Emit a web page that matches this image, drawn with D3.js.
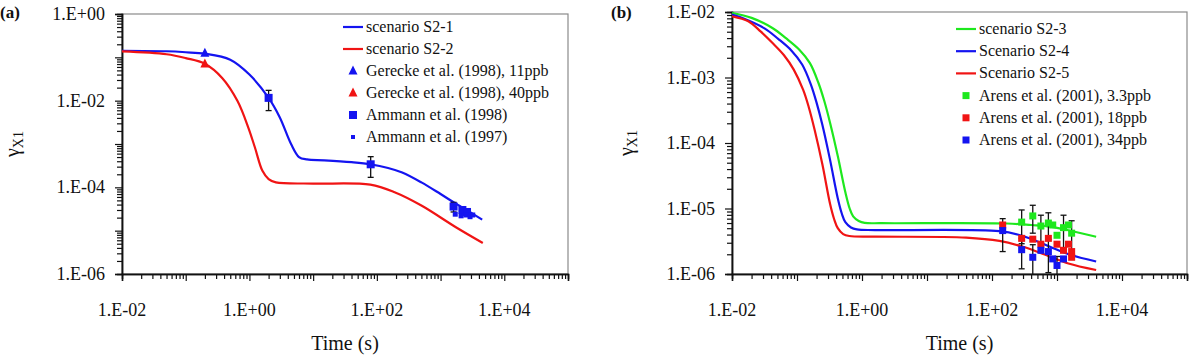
<!DOCTYPE html>
<html>
<head>
<meta charset="utf-8">
<script src="https://cdn.jsdelivr.net/npm/d3@7"></script>
<style>
  body { margin: 0; background: #fff; }
</style>
</head>
<body>
<svg id="chart" width="1193" height="360"></svg>
<script>
// ---- panel (a) data: [time (s), gamma] ----
var s21 = [[0.01,0.142],[0.05,0.138],[0.1,0.131],[0.2,0.121],[0.5,0.088],[1,0.04],[2,0.0116],[3,0.0041],[4.5,1.0e-3],[6,5.0e-4],[8,4.4e-4],[15,4.2e-4],[40,3.8e-4],[80,3.4e-4],[150,2.8e-4],[250,2.2e-4],[500,1.3e-4],[1000,7.0e-5],[1740,4.2e-5],[3000,2.6e-5],[4500,1.8e-5]];
var s22 = [[0.01,0.137],[0.05,0.118],[0.1,0.096],[0.2,0.071],[0.376,0.033],[0.65,9.8e-3],[0.96,2.4e-3],[1.22,8.3e-4],[1.6,2.4e-4],[2,1.55e-4],[2.6,1.3e-4],[10,1.22e-4],[79,1.15e-4],[190,7.7e-5],[500,3.8e-5],[1740,1.2e-5],[4600,5.2e-6]];
var gerecke11 = [[0.2,0.125]];
var gerecke40 = [[0.2,0.071]];
// [time, gamma, error(+/-)]
var ammann98 = [[2,0.0116,0.0057],[80,3.4e-4,1.7e-4],[1600,3.6e-5,0.9e-5],[2200,3.0e-5,0],[2600,2.7e-5,0]];
var ammann97 = [[1700,2.4e-5],[2100,2.2e-5],[2500,2.3e-5],[2900,2.1e-5],[3200,2.3e-5]];

// ---- panel (b) data ----
var s23 = [[0.01,9.66e-3],[0.02,8.13e-3],[0.0418,5.70e-3],[0.0676,3.98e-3],[0.1086,2.66e-3],[0.158,1.66e-3],[0.214,8.24e-4],[0.263,4.37e-4],[0.323,2.02e-4],[0.424,6.31e-5],[0.557,1.74e-5],[0.646,1.0e-5],[0.731,7.59e-6],[0.891,6.46e-6],[1.1,6.03e-6],[2.0,5.96e-6],[170,5.9e-6],[400,5.6e-6],[780,5.3e-6],[1730,4.5e-6],[4000,3.7e-6]];
var s24 = [[0.01,9.12e-3],[0.0151,7.94e-3],[0.0316,5.62e-3],[0.0513,3.89e-3],[0.0824,2.57e-3],[0.12,1.58e-3],[0.1626,7.94e-4],[0.1995,4.17e-4],[0.245,1.91e-4],[0.3214,5.62e-5],[0.4227,1.45e-5],[0.49,8.32e-6],[0.5546,6.17e-6],[0.676,5.13e-6],[0.834,4.79e-6],[1.585,4.68e-6],[130,4.5e-6],[300,3.8e-6],[780,2.6e-6],[1500,2.0e-6],[4000,1.55e-6]];
var s25 = [[0.01,8.61e-3],[0.0178,7.24e-3],[0.0278,5.01e-3],[0.0417,3.39e-3],[0.0631,2.19e-3],[0.0891,1.32e-3],[0.1245,6.46e-4],[0.1514,3.55e-4],[0.187,1.58e-4],[0.246,4.68e-5],[0.323,1.17e-5],[0.372,6.92e-6],[0.424,5.01e-6],[0.513,4.07e-6],[0.638,3.80e-6],[1.585,3.72e-6],[40,3.6e-6],[130,3.2e-6],[300,2.6e-6],[780,1.84e-6],[1500,1.45e-6],[4000,1.15e-6]];
var arens33 = [[286,6.2e-6,3.3e-6],[424,7.7e-6,3.5e-6],[565,5.4e-6,2.5e-6],[737,6.0e-6,2.6e-6],[860,5.6e-6,0],[1000,3.9e-6,0],[1260,5.1e-6,2.8e-6],[1500,5.6e-6,0],[1680,4.2e-6,2.3e-6]];
var arens18 = [[146,5.6e-6,0],[286,3.5e-6,0],[424,3.4e-6,0],[565,2.85e-6,0],[737,3.5e-6,0],[1000,2.85e-6,0],[1260,2.3e-6,0],[1500,2.85e-6,0],[1680,2.2e-6,0],[1680,1.8e-6,0]];
var arens34 = [[146,4.6e-6,2.4e-6],[286,2.35e-6,1.15e-6],[424,1.8e-6,1.0e-6],[565,2.3e-6,0],[737,2.2e-6,1.15e-6],[860,1.7e-6,0],[1000,1.35e-6,0.5e-6],[1260,1.7e-6,0]];

var xLabelsA = [1e-2,1e0,1e2,1e4];
var yLabelsA = [1e0,1e-2,1e-4,1e-6];
var xLabelsB = [1e-2,1e0,1e2,1e4];
var yLabelsB = [1e-2,1e-3,1e-4,1e-5,1e-6];

var BLUE = "#1414f0", RED = "#f01414", GREEN = "#1ee81e";
var FONT = "Liberation Serif";

var svg = d3.select("#chart");

function fmt(v) {
  var e = Math.round(Math.log10(v));
  var s = e < 0 ? "-" : "+";
  var a = Math.abs(e);
  return "1.E" + s + (a < 10 ? "0" + a : a);
}

function logTicks(lo, hi) {
  var out = [];
  for (var e = Math.round(Math.log10(lo)); e < Math.round(Math.log10(hi)); e++) {
    for (var k = 2; k <= 9; k++) out.push(k * Math.pow(10, e));
  }
  return out;
}
function decades(lo, hi) {
  var out = [];
  for (var e = Math.round(Math.log10(lo)); e <= Math.round(Math.log10(hi)); e++) out.push(Math.pow(10, e));
  return out;
}

function txt(sel) {
  return sel.append("text").style("font-family", FONT).attr("fill", "#111");
}

function drawPanel(cfg) {
  var g = svg.append("g");
  var x = d3.scaleLog().domain(cfg.xDomain).range([cfg.left, cfg.right]);
  var y = d3.scaleLog().domain(cfg.yDomain).range([cfg.bottom, cfg.top]);

  // frame
  g.append("rect")
    .attr("x", cfg.left).attr("y", cfg.top)
    .attr("width", cfg.right - cfg.left).attr("height", cfg.bottom - cfg.top)
    .attr("fill", "none").attr("stroke", "#8a8a8a").attr("stroke-width", 1.2);

  // minor ticks
  g.append("g").attr("transform", `translate(0,${cfg.bottom})`)
    .call(d3.axisBottom(x).tickValues(logTicks(cfg.xDomain[0], cfg.xDomain[1])).tickSize(5).tickFormat(""));
  g.append("g").attr("transform", `translate(${cfg.left},0)`)
    .call(d3.axisLeft(y).tickValues(logTicks(cfg.yDomain[0], cfg.yDomain[1])).tickSize(5).tickFormat(""));
  // decade ticks
  g.append("g").attr("transform", `translate(0,${cfg.bottom})`)
    .call(d3.axisBottom(x).tickValues(decades(cfg.xDomain[0], cfg.xDomain[1])).tickSize(7).tickFormat(""));
  g.append("g").attr("transform", `translate(${cfg.left},0)`)
    .call(d3.axisLeft(y).tickValues(decades(cfg.yDomain[0], cfg.yDomain[1])).tickSize(7).tickFormat(""));
  g.selectAll(".domain").attr("stroke", "#111").attr("stroke-width", 1.5);
  g.selectAll(".tick line").attr("stroke", "#111").attr("stroke-width", 1.2);

  // tick labels
  cfg.xLabels.forEach(function(d) {
    txt(g).attr("x", x(d)).attr("y", cfg.bottom + 42)
      .attr("text-anchor", "middle").attr("font-size", 18).text(fmt(d));
  });
  cfg.yLabels.forEach(function(d) {
    txt(g).attr("x", cfg.left - 17).attr("y", y(d) + 6)
      .attr("text-anchor", "end").attr("font-size", 18).text(fmt(d));
  });

  // axis titles
  txt(g).attr("x", (cfg.left + cfg.right) / 2).attr("y", cfg.bottom + 76)
    .attr("text-anchor", "middle").attr("font-size", 20).text("Time (s)");
  var yt = txt(g)
    .attr("transform", `translate(${cfg.yTitleX},${(cfg.top + cfg.bottom) / 2}) rotate(-90)`)
    .attr("text-anchor", "middle").attr("font-size", 20);
  yt.append("tspan").text("γ");
  yt.append("tspan").attr("font-size", 14).attr("dy", 4).text("X1");

  // panel label
  txt(g).attr("x", cfg.tagX).attr("y", 18)
    .attr("font-size", 17).attr("font-weight", "bold").text(cfg.tag);

  var line = d3.line().x(d => x(d[0])).y(d => y(d[1])).curve(d3.curveCatmullRom.alpha(0.5));
  var clip = "clip" + cfg.tag.replace(/\W/g, "");
  g.append("clipPath").attr("id", clip).append("rect")
    .attr("x", cfg.left).attr("y", cfg.top)
    .attr("width", cfg.right - cfg.left).attr("height", cfg.bottom - cfg.top);
  var plot = g.append("g").attr("clip-path", `url(#${clip})`);

  cfg.lines.forEach(function(s) {
    plot.append("path").datum(s.data).attr("d", line)
      .attr("fill", "none").attr("stroke", s.color).attr("stroke-width", 2.2);
  });

  cfg.points.forEach(function(p) {
    p.data.forEach(function(d) {
      var cx = x(d[0]);
      if (d[2]) {
        var y1 = y(d[1] + d[2]), y2 = y(Math.max(d[1] - d[2], 1e-9));
        plot.append("line").attr("x1", cx).attr("x2", cx).attr("y1", y1).attr("y2", y2)
          .attr("stroke", "#111").attr("stroke-width", 1.3);
        [y1, y2].forEach(function(yy) {
          plot.append("line").attr("x1", cx - 3).attr("x2", cx + 3).attr("y1", yy).attr("y2", yy)
            .attr("stroke", "#111").attr("stroke-width", 1.3);
        });
      }
    });
  });
  cfg.points.forEach(function(p) {
    p.data.forEach(function(d) {
      drawMarker(plot, p.shape, p.size, p.color, x(d[0]), y(d[1]));
    });
  });

  // legend
  var lg = g.append("g");
  cfg.legend.forEach(function(item, i) {
    var ly = cfg.legendY + i * cfg.legendStep;
    if (item.type === "line") {
      lg.append("line").attr("x1", cfg.legendX).attr("x2", cfg.legendX + 20)
        .attr("y1", ly).attr("y2", ly).attr("stroke", item.color).attr("stroke-width", 2.2);
    } else {
      drawMarker(lg, item.shape, item.size, item.color, cfg.legendX + 10, ly);
    }
    txt(lg).attr("x", cfg.legendX + 23).attr("y", ly + 5)
      .attr("font-size", 16).text(item.label);
  });
}

function drawMarker(sel, shape, size, color, cx, cy) {
  if (shape === "tri") {
    var h = size;
    sel.append("path")
      .attr("d", `M${cx},${cy - h * 0.6}L${cx + h / 2},${cy + h * 0.4}L${cx - h / 2},${cy + h * 0.4}Z`)
      .attr("fill", color);
  } else {
    sel.append("rect").attr("x", cx - size / 2).attr("y", cy - size / 2)
      .attr("width", size).attr("height", size).attr("fill", color);
  }
}

drawPanel({
  tag: "(a)", tagX: 0,
  left: 122, right: 568, top: 14, bottom: 274,
  xDomain: [1e-2, 1e5], yDomain: [1e-6, 1],
  xLabels: xLabelsA, yLabels: yLabelsA, yTitleX: 19,
  lines: [{data: s21, color: BLUE}, {data: s22, color: RED}],
  points: [
    {data: gerecke11, shape: "tri", size: 9, color: BLUE},
    {data: gerecke40, shape: "tri", size: 9, color: RED},
    {data: ammann98, shape: "sq", size: 8, color: BLUE},
    {data: ammann97, shape: "sq", size: 5, color: BLUE}
  ],
  legendX: 343, legendY: 27, legendStep: 22,
  legend: [
    {type: "line", color: BLUE, label: "scenario S2-1"},
    {type: "line", color: RED, label: "scenario S2-2"},
    {type: "mark", shape: "tri", size: 9, color: BLUE, label: "Gerecke et al. (1998), 11ppb"},
    {type: "mark", shape: "tri", size: 9, color: RED, label: "Gerecke et al. (1998), 40ppb"},
    {type: "mark", shape: "sq", size: 8, color: BLUE, label: "Ammann et al. (1998)"},
    {type: "mark", shape: "sq", size: 4, color: BLUE, label: "Ammann et al. (1997)"}
  ]
});

drawPanel({
  tag: "(b)", tagX: 611,
  left: 732, right: 1187, top: 12, bottom: 274,
  xDomain: [1e-2, 1e5], yDomain: [1e-6, 1e-2],
  xLabels: xLabelsB, yLabels: yLabelsB, yTitleX: 633,
  lines: [{data: s23, color: GREEN}, {data: s24, color: BLUE}, {data: s25, color: RED}],
  points: [
    {data: arens33, shape: "sq", size: 7, color: GREEN},
    {data: arens18, shape: "sq", size: 7, color: RED},
    {data: arens34, shape: "sq", size: 7, color: BLUE}
  ],
  legendX: 956, legendY: 29, legendStep: 22.2,
  legend: [
    {type: "line", color: GREEN, label: "scenario S2-3"},
    {type: "line", color: BLUE, label: "Scenario S2-4"},
    {type: "line", color: RED, label: "Scenario S2-5"},
    {type: "mark", shape: "sq", size: 7, color: GREEN, label: "Arens et al. (2001), 3.3ppb"},
    {type: "mark", shape: "sq", size: 7, color: RED, label: "Arens et al. (2001), 18ppb"},
    {type: "mark", shape: "sq", size: 7, color: BLUE, label: "Arens et al. (2001), 34ppb"}
  ]
});
</script>
</body>
</html>
